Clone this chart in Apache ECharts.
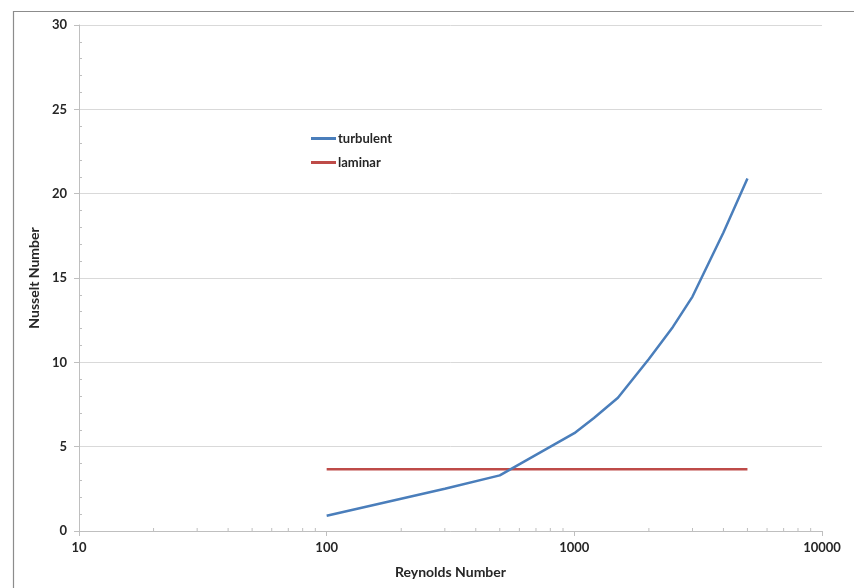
<!DOCTYPE html>
<html>
<head>
<meta charset="utf-8">
<script src="https://cdn.jsdelivr.net/npm/echarts@6/dist/echarts.min.js"></script>
<style>html,body{margin:0;padding:0;background:#fff;}#c{width:854px;height:588px;}</style>
</head>
<body>
<div id="c"></div>
<script>
var reynolds = [100, 300, 500, 1000, 1200, 1500, 2000, 2500, 3000, 4000, 5000];
var turbulent = [0.9, 2.5, 3.3, 5.8, 6.7, 7.9, 10.2, 12.1, 13.9, 17.7, 20.9];
var laminarRe = [100, 5000];
var laminar = [3.66, 3.66];
var minorX = [20,30,40,50,60,70,80,90,200,300,400,500,600,700,800,900,2000,3000,4000,5000,6000,7000,8000,9000];
var xTicks = [10, 100, 1000, 10000];

var chart = echarts.init(document.getElementById('c'), null, {renderer: 'canvas'});
var font = 'Lato, "Open Sans", sans-serif';
chart.setOption({
  animation: false,
  backgroundColor: '#fff',
  graphic: [{
    type: 'rect', left: 11, top: 9, z: -1,
    shape: {x: 0, y: 0, width: 900, height: 700},
    style: {fill: 'none', stroke: '#8c8c8c', lineWidth: 1.2}
  }],
  grid: {left: 79, right: 32, top: 25, bottom: 57},
  legend: {
    data: ['turbulent', 'laminar'],
    orient: 'vertical',
    left: 306, top: 127,
    itemWidth: 25, itemHeight: 3, itemGap: 11,
    icon: 'rect',
    textStyle: {fontFamily: font, fontWeight: 'bold', fontSize: 13, color: '#262626', padding: [0,0,0,-3]}
  },
  xAxis: {
    type: 'log', logBase: 10, min: 10, max: 10000,
    name: 'Reynolds Number', nameLocation: 'middle', nameGap: 34,
    nameTextStyle: {fontFamily: font, fontWeight: 'bold', fontSize: 14, color: '#262626'},
    axisLine: {show: true, lineStyle: {color: '#bfbfbf', width: 1}},
    axisTick: {show: true, length: 5, lineStyle: {color: '#bfbfbf'}},
    axisLabel: {fontFamily: font, fontWeight: 'bold', fontSize: 13, color: '#262626', margin: 10,
      formatter: function (v) { return String(Math.round(v)); }},
    splitLine: {show: false},
    minorTick: {show: false}
  },
  yAxis: {
    type: 'value', min: 0, max: 30, interval: 5,
    name: 'Nusselt Number', nameLocation: 'middle', nameGap: 35, nameRotate: 90,
    nameTextStyle: {fontFamily: font, fontWeight: 'bold', fontSize: 14, color: '#262626'},
    axisLine: {show: true, lineStyle: {color: '#bfbfbf', width: 1}},
    axisTick: {show: true, length: 5, lineStyle: {color: '#bfbfbf'}},
    minorTick: {show: true, splitNumber: 5, length: -3, lineStyle: {color: '#bfbfbf'}},
    axisLabel: {fontFamily: font, fontWeight: 'bold', fontSize: 13, color: '#262626', margin: 12},
    splitLine: {show: true, lineStyle: {color: '#d9d9d9', width: 1}}
  },
  series: [
    {
      name: 'turbulent', type: 'line', showSymbol: false, symbol: 'none',
      data: reynolds.map(function (r, i) { return [r, turbulent[i]]; }),
      lineStyle: {color: '#4a7ebb', width: 2.5}, itemStyle: {color: '#4a7ebb'}, z: 3
    },
    {
      name: 'laminar', type: 'line', showSymbol: false, symbol: 'none',
      data: laminarRe.map(function (r, i) { return [r, laminar[i]]; }),
      lineStyle: {color: '#be4b48', width: 2.5}, itemStyle: {color: '#be4b48'}, z: 2
    },
    {
      name: 'minor', type: 'custom', silent: true, clip: false,
      data: minorX.map(function (v) { return [v, 0]; }),
      renderItem: function (params, api) {
        var p = api.coord([api.value(0), 0]);
        return {type: 'line', shape: {x1: p[0], y1: p[1], x2: p[0], y2: p[1] - 3},
                style: {stroke: '#bfbfbf', lineWidth: 1}};
      }
    }
  ]
});
</script>
</body>
</html>
